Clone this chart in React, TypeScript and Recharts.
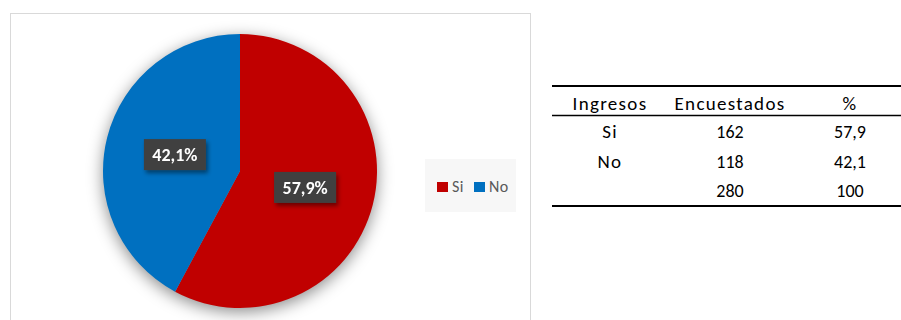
import { PieChart, Pie, Cell, Legend } from "recharts";

const categories = ["Si", "No"];
const encuestados = [162, 118];
const porcentajes = [57.9, 42.1];
const headers = ["Ingresos", "Encuestados", "%"];
const totalEncuestados = 280;
const totalPct = 100;

const COLORS = ["#C00000", "#0070C0"];
const FONT = "Carlito, Lato, 'Noto Sans', sans-serif";
const RAD = Math.PI / 180;

const fmt = (v: number) => v.toFixed(1).replace(".", ",");

const pieData = categories.map((name, i) => ({ name, value: encuestados[i] }));
// one-slice copy of the pie, drawn blurred underneath as its shadow
const shadowData = [{ name: "total", value: totalEncuestados }];

function renderLabel(props: any) {
  const { cx, cy, midAngle, outerRadius, index } = props;
  const r = outerRadius * 0.49;
  const x = cx + r * Math.cos(-midAngle * RAD);
  const y = cy + r * Math.sin(-midAngle * RAD);
  return (
    <g filter="url(#lblShadow)">
      <rect x={x - 31} y={y - 15.5} width={62} height={31} fill="#404040" />
      <text
        x={x}
        y={y + 6.5}
        fill="#ffffff"
        textAnchor="middle"
        fontWeight={700}
        fontSize={18}
        fontFamily={FONT}
      >
        {fmt(porcentajes[index])}%
      </text>
    </g>
  );
}

function LegendContent() {
  return (
    <div
      style={{
        width: "100%",
        height: "100%",
        background: "#f7f7f7",
        display: "flex",
        alignItems: "center",
        paddingLeft: 12,
        paddingTop: 2,
        boxSizing: "border-box",
        fontFamily: FONT,
        fontSize: 16,
        letterSpacing: 0.5,
        color: "#595959",
      }}
    >
      {categories.map((c, i) => (
        <span key={c} style={{ display: "flex", alignItems: "center", marginRight: 10 }}>
          <span style={{ width: 11, height: 10, background: COLORS[i], marginRight: 4 }} />
          {c}
        </span>
      ))}
    </div>
  );
}

// table layout
const colX = [610, 730, 850];
const rowY = [138, 168, 197];
const word = { fontSize: 19, letterSpacing: 1.3 };
const num = { fontSize: 18 };

export default function App() {
  return (
    <div
      style={{
        position: "absolute",
        left: 0,
        top: 0,
        width: 901,
        height: 320,
        background: "#fff",
        overflow: "hidden",
      }}
    >
      <svg width={0} height={0} style={{ position: "absolute" }}>
        <defs>
          <filter id="pieBlur" x="-30%" y="-30%" width="160%" height="160%">
            <feGaussianBlur stdDeviation={8} />
          </filter>
          <filter id="lblShadow" x="-30%" y="-30%" width="160%" height="170%">
            <feDropShadow dx={2} dy={3} stdDeviation={2} floodColor="#000" floodOpacity={0.45} />
          </filter>
        </defs>
      </svg>
      <div
        style={{
          position: "absolute",
          left: 10,
          top: 13,
          width: 519,
          height: 320,
          border: "1px solid #d9d9d9",
        }}
      >
        <PieChart width={519} height={320} margin={{ top: 0, right: 0, bottom: 0, left: 0 }}>
          <Pie
            data={shadowData}
            dataKey="value"
            cx={229}
            cy={161}
            outerRadius={137}
            stroke="none"
            legendType="none"
            isAnimationActive={false}
          >
            <Cell fill="rgba(0,0,0,0.45)" filter="url(#pieBlur)" />
          </Pie>
          <Pie
            data={pieData}
            dataKey="value"
            nameKey="name"
            cx={229}
            cy={157}
            outerRadius={137}
            startAngle={90}
            endAngle={-270}
            stroke="none"
            labelLine={false}
            label={renderLabel}
            isAnimationActive={false}
          >
            {pieData.map((d, i) => (
              <Cell key={d.name} fill={COLORS[i]} />
            ))}
          </Pie>
          <Legend
            content={<LegendContent />}
            wrapperStyle={{ left: 414, top: 145, width: 91, height: 53, bottom: "auto", right: "auto" }}
          />
        </PieChart>
      </div>

      <svg
        width={901}
        height={320}
        style={{ position: "absolute", left: 0, top: 0, pointerEvents: "none" }}
        fontFamily={FONT}
      >
        <line x1={552} x2={901} y1={86} y2={86} stroke="#000" strokeWidth={2} />
        <line x1={552} x2={901} y1={115.5} y2={115.5} stroke="#000" strokeWidth={1.5} />
        <line x1={552} x2={901} y1={206} y2={206} stroke="#000" strokeWidth={2} />
        {headers.map((h, i) => (
          <text key={h} x={colX[i]} y={110} textAnchor="middle" fill="#000" {...word}>
            {h}
          </text>
        ))}
        {categories.map((c, i) => (
          <g key={c}>
            <text x={colX[0]} y={rowY[i]} textAnchor="middle" fill="#000" {...word}>
              {c}
            </text>
            <text x={colX[1]} y={rowY[i]} textAnchor="middle" fill="#000" {...num}>
              {encuestados[i]}
            </text>
            <text x={colX[2]} y={rowY[i]} textAnchor="middle" fill="#000" {...num}>
              {fmt(porcentajes[i])}
            </text>
          </g>
        ))}
        <text x={colX[1]} y={rowY[2]} textAnchor="middle" fill="#000" {...num}>
          {totalEncuestados}
        </text>
        <text x={colX[2]} y={rowY[2]} textAnchor="middle" fill="#000" {...num}>
          {totalPct}
        </text>
      </svg>
    </div>
  );
}
